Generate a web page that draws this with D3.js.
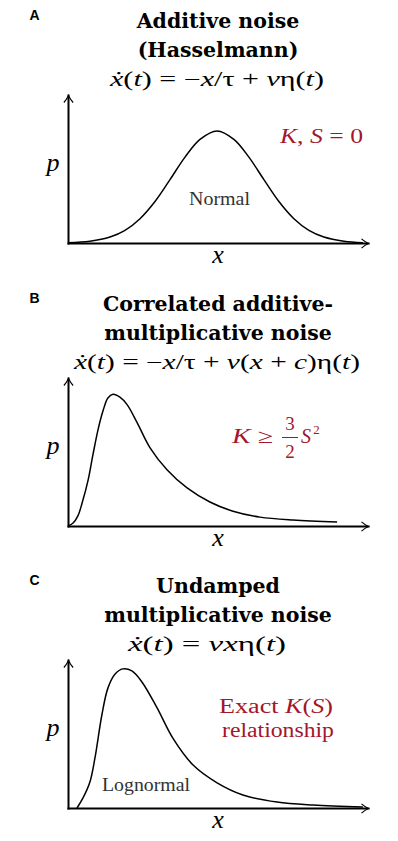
<!DOCTYPE html>
<html>
<head>
<meta charset="utf-8">
<script src="https://cdn.jsdelivr.net/npm/d3@7"></script>
<style>
body { margin: 0; background: #fff; }
</style>
</head>
<body>
<div id="chart"></div>
<script>
// panel texts
var panelLetters = ["A", "B", "C"];
var panelTitles = [
    ["Additive noise", "(Hasselmann)"],
    ["Correlated additive-", "multiplicative noise"],
    ["Undamped", "multiplicative noise"]
];
// equations as [text, style] pieces, "i" = italic
var panelEquations = [
    [["ẋ", "i"], ["(", "r"], ["t", "i"], [") = −", "r"], ["x", "i"], ["/τ + ", "r"], ["ν", "i"], ["η(", "r"], ["t", "i"], [")", "r"]],
    [["ẋ", "i"], ["(", "r"], ["t", "i"], [") = −", "r"], ["x", "i"], ["/τ + ", "r"], ["ν", "i"], ["(", "r"], ["x", "i"], [" + ", "r"], ["c", "i"], [")η(", "r"], ["t", "i"], [")", "r"]],
    [["ẋ", "i"], ["(", "r"], ["t", "i"], [") = ", "r"], ["ν", "i"], ["x", "i"], ["η(", "r"], ["t", "i"], [")", "r"]]
];
var curveLabels = ["Normal", "", "Lognormal"];

// curves (x: 0-10 along the axis, p: share of the axis height)
var normalX = [0, 0.73, 1.4, 1.9, 2.4, 2.9, 3.4, 3.9, 4.4, 4.97, 5.53, 6.03, 6.53, 7.03, 7.53, 8.03, 8.53, 9.2, 9.83];
var normalP = [0.002, 0.012, 0.04, 0.085, 0.164, 0.28, 0.428, 0.58, 0.70, 0.757, 0.70, 0.58, 0.428, 0.28, 0.164, 0.085, 0.04, 0.012, 0.002];

var camX = [0, 0.17, 0.33, 0.47, 0.67, 0.83, 1.0, 1.17, 1.33, 1.5, 1.73, 1.97, 2.3, 2.73, 3.3, 3.97, 4.73, 5.5, 6.4, 7.5, 8.97];
var camP = [0, 0.02, 0.068, 0.155, 0.31, 0.48, 0.65, 0.78, 0.865, 0.89, 0.87, 0.82, 0.70, 0.53, 0.38, 0.257, 0.162, 0.10, 0.06, 0.04, 0.027];

var lognormalX = [0.3, 0.5, 0.73, 0.9, 1.13, 1.33, 1.57, 1.83, 2.13, 2.47, 2.97, 3.5, 4.17, 4.97, 5.83, 6.97, 8.17, 9.83];
var lognormalP = [0, 0.068, 0.176, 0.34, 0.63, 0.81, 0.905, 0.94, 0.926, 0.85, 0.676, 0.47, 0.29, 0.17, 0.088, 0.04, 0.02, 0.007];

var svgWidth = 398;
var svgHeight = 841;
var axisY = [243, 526, 808];
var plotHeight = 148;
var red = "#a3162b";
var mathFont = "'Liberation Serif', serif";
var titleFont = "'DejaVu Serif', serif";

var svg = d3.select("#chart")
    .append("svg")
    .attr("width", svgWidth)
    .attr("height", svgHeight);

// open latex-style arrow tip
svg.append("defs").append("marker")
    .attr("id", "arrow")
    .attr("viewBox", "-9 -6 11 12")
    .attr("refX", 0)
    .attr("refY", 0)
    .attr("markerWidth", 11)
    .attr("markerHeight", 12)
    .attr("markerUnits", "userSpaceOnUse")
    .attr("orient", "auto")
    .append("path")
    .attr("d", "M-7,-4.6 C-4,-2 -1.6,-0.7 0,0 C-1.6,0.7 -4,2 -7,4.6")
    .attr("fill", "none")
    .attr("stroke", "#000")
    .attr("stroke-width", 1.2);

var xScale = d3.scaleLinear().domain([0, 10]).range([68, 368]);

var curves = [[normalX, normalP], [camX, camP], [lognormalX, lognormalP]];

function richText(parent, parts, x, y, size, color, width) {
    var t = parent.append("text")
        .attr("x", x)
        .attr("y", y)
        .attr("font-family", mathFont)
        .attr("font-size", size)
        .attr("fill", color)
        .attr("text-anchor", "middle")
        .style("white-space", "pre");
    parts.forEach(function (p) {
        t.append("tspan")
            .attr("font-style", p[1] == "i" ? "italic" : "normal")
            .text(p[0]);
    });
    if (width) {
        t.attr("textLength", width).attr("lengthAdjust", "spacingAndGlyphs");
    }
    return t;
}

// equation target spans [left, right]
var eqSpans = [[110, 324], [74, 360], [128, 286]];

panelLetters.forEach(function (letter, i) {
    var base = axisY[i];
    var g = svg.append("g");

    var yScale = d3.scaleLinear().domain([0, 1]).range([base, base - plotHeight]);

    // panel letter
    g.append("text")
        .attr("x", 29.5)
        .attr("y", base - 223)
        .attr("font-family", "'Liberation Sans', Arial, sans-serif")
        .attr("font-weight", "bold")
        .attr("font-size", 14)
        .text(letter);

    // title
    panelTitles[i].forEach(function (line, j) {
        g.append("text")
            .attr("x", 218)
            .attr("y", base - 215 + j * 29)
            .attr("text-anchor", "middle")
            .attr("font-family", titleFont)
            .attr("font-weight", "bold")
            .attr("font-size", 20.5)
            .text(line);
    });

    // equation
    var span = eqSpans[i];
    richText(g, panelEquations[i], (span[0] + span[1]) / 2, base - 157, 20, "#000", span[1] - span[0]);

    // axes, no ticks, arrow heads at the ends
    var bottomAxis = d3.axisBottom(xScale).tickValues([]).tickSizeOuter(0);
    var leftAxis = d3.axisLeft(yScale).tickValues([]).tickSizeOuter(0);

    g.append("g")
        .attr("transform", `translate(0, ${base})`)
        .call(bottomAxis)
        .select(".domain")
        .attr("stroke-width", 2)
        .attr("stroke-linecap", "square")
        .attr("marker-end", "url(#arrow)");

    g.append("g")
        .attr("transform", `translate(${xScale(0)}, 0)`)
        .call(leftAxis)
        .select(".domain")
        .attr("stroke-width", 2)
        .attr("stroke-linecap", "square")
        .attr("marker-end", "url(#arrow)");

    // distribution curve
    var xs = curves[i][0];
    var ps = curves[i][1];
    var line = d3.line()
        .x(function (d, k) { return xScale(xs[k]); })
        .y(function (d) { return yScale(d); })
        .curve(d3.curveCatmullRom.alpha(0.5));

    g.append("path")
        .datum(ps)
        .attr("d", line)
        .attr("fill", "none")
        .attr("stroke", "#000")
        .attr("stroke-width", 1.5);

    // axis labels
    g.append("text")
        .attr("x", 53)
        .attr("y", base - 72)
        .attr("text-anchor", "middle")
        .attr("font-family", mathFont)
        .attr("font-style", "italic")
        .attr("font-size", 26)
        .text("p");

    g.append("text")
        .attr("x", 218)
        .attr("y", base + 20)
        .attr("text-anchor", "middle")
        .attr("font-family", mathFont)
        .attr("font-style", "italic")
        .attr("font-size", 26)
        .text("x");
});

// curve names
richText(svg, [[curveLabels[0], "r"]], 219.5, axisY[0] - 38, 19, "#333", 61);
richText(svg, [[curveLabels[2], "r"]], 146, axisY[2] - 17, 19, "#333", 88);

// red notes
richText(svg, [["K", "i"], [", ", "r"], ["S", "i"], [" = 0", "r"]], 321.5, axisY[0] - 100, 20, red, 83);

var nb = axisY[1];
richText(svg, [["K", "i"], [" ≥", "r"]], 252.5, nb - 83, 20, red, 41);
richText(svg, [["3", "r"]], 290, nb - 96, 19, red);
richText(svg, [["2", "r"]], 290, nb - 68, 19, red);
svg.append("line")
    .attr("x1", 282).attr("x2", 298)
    .attr("y1", nb - 88.5).attr("y2", nb - 88.5)
    .attr("stroke", red)
    .attr("stroke-width", 1);
richText(svg, [["S", "i"]], 306, nb - 83, 20, red);
richText(svg, [["2", "r"]], 316.5, nb - 92, 13, red);

richText(svg, [["Exact ", "r"], ["K", "i"], ["(", "r"], ["S", "i"], [")", "r"]], 276, axisY[2] - 95, 20, red, 114);
richText(svg, [["relationship", "r"]], 278, axisY[2] - 71, 20, red, 112);
</script>
</body>
</html>
